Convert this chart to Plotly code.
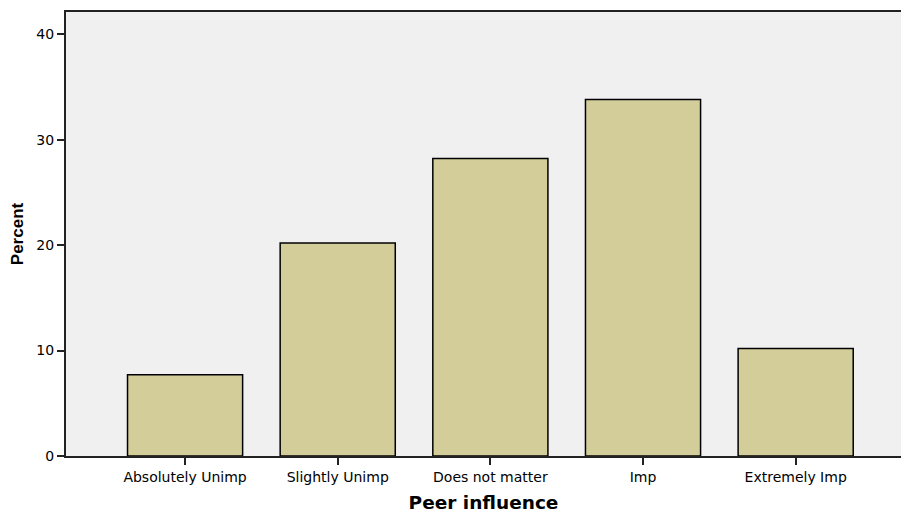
import plotly.graph_objects as go

categories = ["Absolutely Unimp", "Slightly Unimp", "Does not matter", "Imp", "Extremely Imp"]
percent = [7.7, 20.2, 28.2, 33.8, 10.2]
y_ticks = [0, 10, 20, 30, 40]

fig = go.Figure(go.Bar(
    x=categories, y=percent,
    marker=dict(color="#D3CE99", line=dict(color="#000000", width=1.5)),
))

fig.update_layout(
    width=901, height=513,
    margin=dict(l=66, r=0, t=12, b=57),
    paper_bgcolor="white", plot_bgcolor="#F0F0F0",
    bargap=0.246, showlegend=False,
    font=dict(family="DejaVu Sans, sans-serif", color="#000000"),
)
fig.update_xaxes(
    range=[-0.78, 4.69], showline=True, linecolor="#222222", linewidth=2, mirror=True,
    ticks="outside", ticklen=7, tickwidth=2, tickcolor="#222222",
    tickfont=dict(size=14, family="DejaVu Sans"), showgrid=False, zeroline=False,
    automargin=False,
    title=dict(text="<b>Peer influence</b>", font=dict(size=18.5, family="DejaVu Sans"), standoff=14),
)
fig.update_yaxes(
    range=[0, 42.1], tickvals=y_ticks, showline=True, linecolor="#222222", linewidth=2,
    ticks="outside", ticklen=7, tickwidth=2, tickcolor="#222222",
    tickfont=dict(size=14, family="DejaVu Sans"), showgrid=False, zeroline=False,
    automargin=False,
    title=dict(text="<b>Percent</b>", font=dict(size=17, family="Liberation Sans"), standoff=8),
)
fig.write_html(
    "out.html",
    config={"displayModeBar": False},
    post_script="document.body.style.margin='0';document.body.style.overflow='hidden';",
)
